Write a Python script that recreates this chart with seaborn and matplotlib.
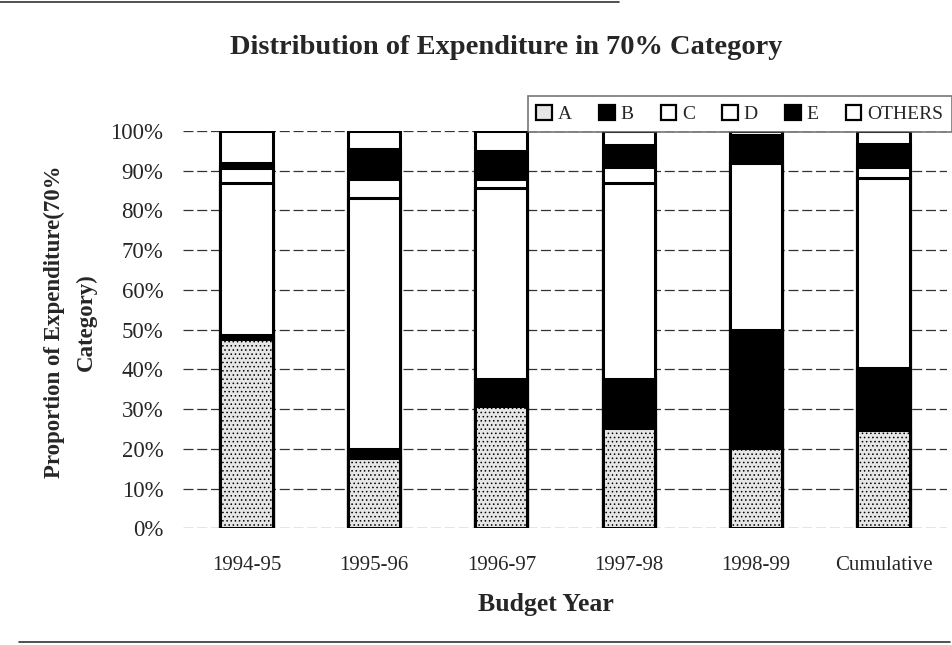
import pandas as pd
import seaborn as sns
import matplotlib.pyplot as plt
from matplotlib.patches import Patch
from matplotlib.lines import Line2D

# Budget years on the x axis
years = ["1994-95", "1995-96", "1996-97", "1997-98", "1998-99", "Cumulative"]

# Share of expenditure (%) per category
cat_a = [47.6, 17.6, 30.7, 25.2, 20.3, 24.8]
cat_b = [1.0, 2.3, 6.8, 12.3, 29.6, 15.5]
cat_c = [38.4, 63.3, 48.2, 49.5, 42.0, 47.8]
cat_d = [3.6, 4.7, 2.1, 3.9, 0.8, 2.8]
cat_e = [1.3, 7.6, 7.1, 5.6, 6.3, 5.8]
others = [8.1, 4.5, 5.1, 3.5, 1.0, 3.3]

y_ticks = [0, 10, 20, 30, 40, 50, 60, 70, 80, 90, 100]

categories = ["A", "B", "C", "D", "E", "OTHERS"]
series = [cat_a, cat_b, cat_c, cat_d, cat_e, others]
fills = ["#e6e6e6", "black", "white", "white", "black", "white"]
hatches = ["....", None, None, None, None, None]


def stacked_frame() -> pd.DataFrame:
    """Long table with the running top of each segment."""
    rows = []
    for i, year in enumerate(years):
        top = 0.0
        for cat, vals in zip(categories, series):
            top += vals[i]
            rows.append({"year": year, "category": cat, "top": top})
    return pd.DataFrame(rows)


def main() -> None:
    sns.set_style("white")
    plt.rcParams["font.family"] = ["Liberation Serif", "DejaVu Serif"]
    plt.rcParams["hatch.linewidth"] = 0.6

    df = stacked_frame()

    fig = plt.figure(figsize=(9.52, 6.45), dpi=100)
    ax = fig.add_axes([0.192, 0.181, 0.803, 0.616])

    # draw the tallest layer first so the lower ones sit on top of it
    for cat, fill, hatch in reversed(list(zip(categories, fills, hatches))):
        sub = df[df["category"] == cat]
        sns.barplot(data=sub, x="year", y="top", order=years, color=fill,
                    saturation=1, width=0.41, edgecolor="black", linewidth=2.2,
                    hatch=hatch, ax=ax, zorder=3)

    ax.set_ylim(0, 100)
    ax.set_xlim(-0.5, len(years) - 0.5)
    ax.set_yticks(y_ticks)
    ax.set_yticklabels([f"{t}%" for t in y_ticks], fontsize=16.5)
    ax.tick_params(axis="x", labelsize=15, length=0, pad=20)
    ax.tick_params(axis="y", length=0, pad=14)
    ax.yaxis.grid(True, linestyle=(0, (8, 3)), color="#333333", linewidth=0.9, zorder=0)
    for s in ax.spines.values():
        s.set_visible(False)

    ax.set_xlabel("")
    ax.set_ylabel("Proportion of Expenditure(70%\nCategory)", fontsize=16.5,
                  fontweight="bold", linespacing=1.65)
    ax.yaxis.set_label_coords(-0.113, 0.52)
    fig.text(546 / 952, 1 - 605 / 645, "Budget Year", ha="center", va="center",
             fontsize=18.5, fontweight="bold")
    fig.text(0.532, 0.927, "Distribution of Expenditure in 70% Category",
             ha="center", va="center", fontsize=20.5, fontweight="bold")

    handles = [Patch(facecolor=f, edgecolor="black", linewidth=1.6) for f in fills]
    leg = ax.legend(handles, categories, loc="lower right", bbox_to_anchor=(1.006, 0.998),
                    ncol=6, fontsize=14, frameon=True, fancybox=False, borderpad=0.45,
                    handlelength=0.8, handleheight=0.8, handletextpad=0.3,
                    columnspacing=1.4, borderaxespad=0)
    leg.get_frame().set_edgecolor("#555555")
    leg.get_frame().set_linewidth(1.2)

    # page rules from the scanned report
    fig.add_artist(Line2D([0.0, 0.65], [0.997, 0.997], color="#333333", linewidth=1.2))
    fig.add_artist(Line2D([0.02, 0.998], [0.004, 0.004], color="#333333", linewidth=1.2))

    fig.savefig("out.png", dpi=100)
    plt.close(fig)


if __name__ == "__main__":
    main()
